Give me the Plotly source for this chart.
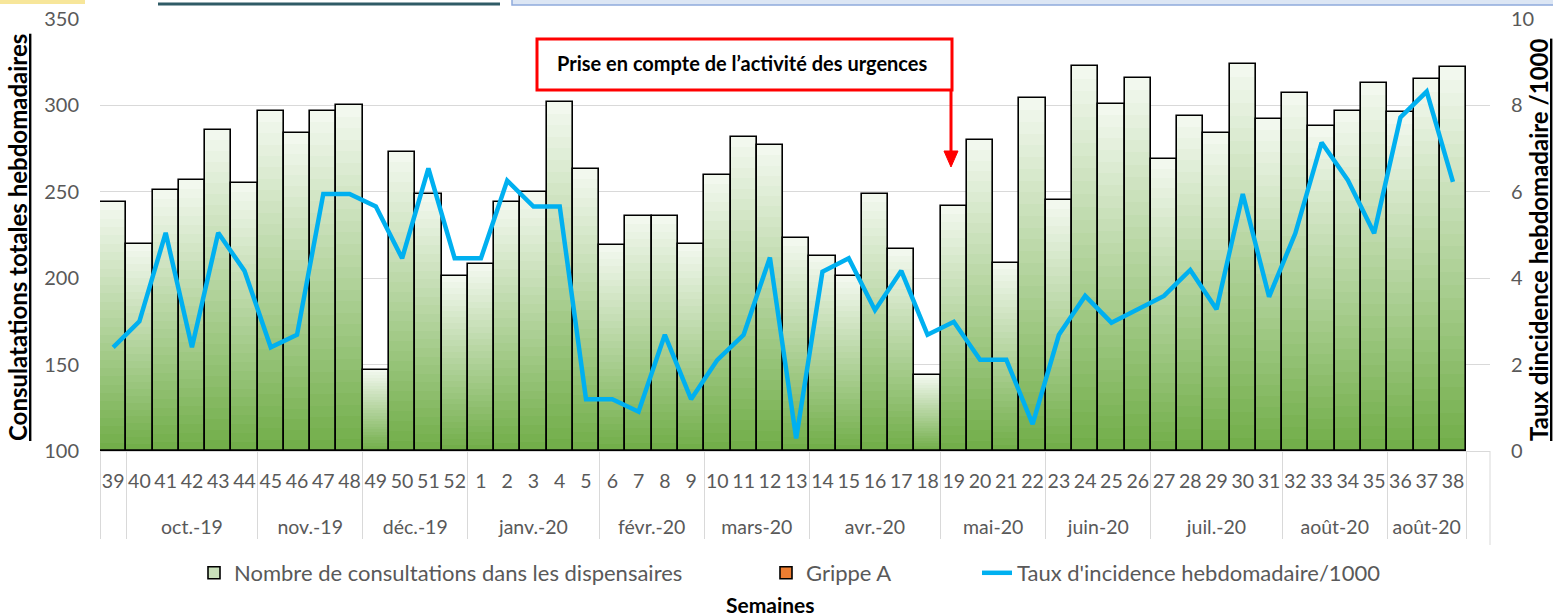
import plotly.graph_objects as go

# ---------------- data ----------------
weeks = ['39', '40', '41', '42', '43', '44', '45', '46', '47', '48', '49', '50', '51', '52',
         '1', '2', '3', '4', '5', '6', '7', '8', '9', '10', '11', '12', '13',
         '14', '15', '16', '17', '18', '19', '20', '21', '22', '23', '24', '25', '26',
         '27', '28', '29', '30', '31', '32', '33', '34', '35', '36', '37', '38']

month_groups = [('\u00a0', 1), ('oct.-19', 5), ('nov.-19', 4), ('déc.-19', 4), ('janv.-20', 5),
                ('févr.-20', 4), ('mars-20', 4), ('avr.-20', 5), ('mai-20', 4), ('juin-20', 4),
                ('juil.-20', 5), ('août-20', 4), ('août-20\u200b', 3)]
months = [m for m, n in month_groups for _ in range(n)]

consultations = [244, 220, 251, 257, 286, 255, 297, 284, 297, 300, 147, 273, 249, 201,
                 208, 244, 250, 302, 263, 219, 236, 236, 220, 260, 282, 277, 223,
                 213, 201, 249, 217, 144, 242, 280, 209, 304, 245, 323, 301, 316,
                 269, 294, 284, 324, 292, 307, 288, 297, 313, 296, 315, 322]

grippe_a = [0] * 52

incidence = [2.40, 3.00, 5.05, 2.40, 5.05, 4.17, 2.40, 2.69, 5.95, 5.95, 5.66, 4.46, 6.54, 4.46,
             4.46, 6.26, 5.66, 5.66, 1.20, 1.20, 0.91, 2.69, 1.20, 2.11, 2.69, 4.48, 0.29,
             4.15, 4.46, 3.26, 4.17, 2.69, 2.99, 2.11, 2.11, 0.62, 2.69, 3.59, 2.97, 3.28,
             3.59, 4.19, 3.28, 5.95, 3.57, 5.04, 7.14, 6.27, 5.04, 7.72, 8.32, 6.23]

# ---------------- geometry helpers (pixels -> paper) ----------------
W, H = 1553, 616
L, R, T, B = 100, 1490, 19, 451
def px(x):
    return (x - L) / (R - L)
def py(y):
    return (B - y) / (B - T)

Y0 = 100
# an invisible second line (large blank) makes the week row taller, pushing the month row down
week_labels = [w + '<br><span style="font-size:48px">\u00a0</span>' for w in weeks]
x = [months, week_labels]
TXT = '#595959'
FONT = 'Lato, Roboto, sans-serif'

fig = go.Figure()

# gradient bars (each bar: light at its top, green at its bottom)
K = 30
c_bot = (112, 173, 71)
c_top = (244, 249, 241)
for i in range(K):
    t = (i + 0.5) / K
    col = tuple(round(c_bot[j] + (c_top[j] - c_bot[j]) * t) for j in range(3))
    fig.add_trace(go.Bar(
        x=x,
        y=[(v - Y0) / K for v in consultations],
        base=[Y0 + (v - Y0) * i / K for v in consultations],
        marker=dict(color='rgb(%d,%d,%d)' % col, line=dict(width=0)),
        showlegend=False, hoverinfo='skip'))

# bar outlines
fig.add_trace(go.Bar(
    x=x, y=[v - Y0 for v in consultations], base=[Y0] * 52,
    marker=dict(color='rgba(0,0,0,0)', line=dict(color='black', width=1.6)),
    showlegend=False, name='Nombre de consultations dans les dispensaires'))

# legend carriers
fig.add_trace(go.Bar(
    x=x, y=[None] * 52, base=[Y0] * 52, legend='legend',
    name='Nombre de consultations dans les dispensaires',
    marker=dict(color='#C9E0BA', line=dict(color='black', width=1.6))))
fig.add_trace(go.Bar(
    x=x, y=grippe_a, base=[Y0] * 52, name='Grippe A', legend='legend2',
    marker=dict(color='#ED7D31', line=dict(color='black', width=1.6))))

fig.add_trace(go.Scatter(
    x=x, y=incidence, yaxis='y2', mode='lines', legend='legend3',
    name="Taux d'incidence hebdomadaire/1000",
    line=dict(color='#00B0F0', width=4.5)))

leg_common = dict(orientation='h', xanchor='left', y=py(573), yanchor='middle',
                  font=dict(size=22, color=TXT, family=FONT), bgcolor='rgba(0,0,0,0)')

fig.update_layout(
    width=W, height=H,
    margin=dict(l=L, r=W - R, t=T, b=H - B, autoexpand=False),
    paper_bgcolor='white', plot_bgcolor='white',
    barmode='overlay', bargap=0,
    font=dict(family=FONT, color=TXT, size=19),
    xaxis=dict(type='multicategory', range=[-0.5, 52.41], automargin=False,
               showgrid=False, showline=True, linecolor='#D9D9D9', linewidth=1,
               showdividers=True, dividercolor='#D9D9D9', dividerwidth=1,
               tickangle=0, ticks='', ticklabelstandoff=13,
               tickfont=dict(size=19.5, color=TXT, family=FONT)),
    yaxis=dict(range=[100, 350], dtick=50, showgrid=True, gridcolor='#D9D9D9', automargin=False,
               zeroline=False, showline=False, ticks='',
               tickfont=dict(size=20, color=TXT, family=FONT), ticklabelstandoff=20),
    yaxis2=dict(range=[0, 10], dtick=2, overlaying='y', side='right', showgrid=False,
                automargin=False, zeroline=False, showline=False, ticks='',
                tickfont=dict(size=20, color=TXT, family=FONT), ticklabelstandoff=20),
    legend=dict(x=px(236 - 42), **leg_common),
    legend2=dict(x=px(808 - 42), **leg_common),
    legend3=dict(x=px(1018 - 41), **leg_common),
    showlegend=True,
)

# axis titles and annotation
fig.add_annotation(text='Consulatations totales hebdomadaires', xref='paper', yref='paper',
                   x=px(17), y=py(238), textangle=-90, showarrow=False,
                   xanchor='center', yanchor='middle',
                   font=dict(size=24, color='black', family=FONT, weight='bold', lineposition='under'))
fig.add_annotation(text='Taux dincidence hebdomadaire /1000', xref='paper', yref='paper',
                   x=px(1538), y=py(240), textangle=-90, showarrow=False,
                   xanchor='center', yanchor='middle',
                   font=dict(size=24, color='black', family=FONT, weight='bold', lineposition='under'))
fig.add_annotation(text='Semaines', xref='paper', yref='paper', x=px(770), y=py(604),
                   xanchor='center', yanchor='middle',
                   showarrow=False, font=dict(size=21, color='black', family=FONT, weight='bold'))

# red callout
fig.add_shape(type='rect', xref='paper', yref='paper', x0=px(537), x1=px(952), y0=py(39), y1=py(90),
              line=dict(color='#FF0000', width=3), fillcolor='white')
fig.add_annotation(text='Prise en compte de l’activité des urgences', xref='paper', yref='paper',
                   x=px(742), y=py(63), showarrow=False, xanchor='center', yanchor='middle',
                   font=dict(size=20, color='black', family=FONT, weight='bold'))
fig.add_shape(type='line', xref='paper', yref='paper', x0=px(951), x1=px(951), y0=py(90), y1=py(153),
              line=dict(color='#FF0000', width=3))
fig.add_shape(type='path', xref='paper', yref='paper',
              path='M %f %f L %f %f L %f %f Z' % (px(944), py(151), px(958), py(151), px(951), py(167)),
              line=dict(color='#FF0000', width=1), fillcolor='#FF0000')

# extra divider at the right end of the category axis area
fig.add_shape(type='line', xref='paper', yref='paper', x0=1, x1=1, y0=0, y1=py(545),
              line=dict(color='#D9D9D9', width=1))

# slide remnants at the very top
fig.add_shape(type='rect', xref='paper', yref='paper', x0=px(0), x1=px(85), y0=py(-2), y1=py(4),
              line=dict(width=0), fillcolor='#F7E69A')
fig.add_shape(type='line', xref='paper', yref='paper', x0=px(158), x1=px(500), y0=py(4), y1=py(4),
              line=dict(color='#2F5B66', width=3))
fig.add_shape(type='rect', xref='paper', yref='paper', x0=px(512), x1=px(1560), y0=py(-3), y1=py(5),
              line=dict(color='#8FAADC', width=1.5), fillcolor='#DCE6F4')

fig.write_html('out.html', config={'displayModeBar': False},
               post_script="document.body.style.margin='0';document.body.style.padding='0';"
                           "document.body.style.overflow='hidden';")
